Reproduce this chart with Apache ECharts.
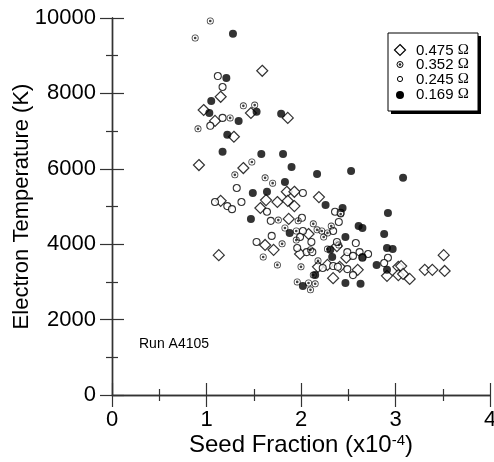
<!DOCTYPE html>
<html><head><meta charset="utf-8">
<script src="https://cdn.jsdelivr.net/npm/echarts@6/dist/echarts.min.js"></script>
<style>html,body{margin:0;padding:0;background:#fff}#c{width:494px;height:462px}</style>
</head><body><div id="c"></div>
<script>
// Series: 0.475 ohm (open diamonds)
const x475 = [0.92,0.97,1.09,1.15,1.59,1.29,1.47,1.86,1.39,1.15,1.13,1.63,1.75,1.85,1.93,1.86,1.93,1.57,2.19,1.87,1.62,1.71,1.99,2.08,2.38,2.48,2.28,2.41,2.60,2.34,2.91,3.03,3.03,3.06,3.08,3.15,3.31,3.39,3.52,3.51,2.18];
const y475 = [6100,7560,7270,7910,8600,6850,7480,7350,6020,5150,3710,5170,5120,5390,5390,5150,5010,4960,5250,4670,3980,3850,3740,4270,3950,3640,3450,3400,3320,3100,3160,3400,3180,3420,3210,3080,3320,3320,3290,3710,3400];
// Series: 0.352 ohm (dot in circle)
const x352 = [0.88,1.04,0.91,1.39,1.51,1.25,1.48,1.30,1.62,1.70,1.76,1.97,2.13,1.83,1.95,2.17,2.22,2.28,2.32,2.24,1.95,1.80,2.28,1.60,1.75,2.00,2.18,1.96,2.08,2.15,2.10,2.42,2.13,2.10,2.40];
const y352 = [9470,9920,7060,7670,7690,7350,6180,5840,5760,5620,4640,4620,4540,4430,4350,4380,4350,4300,4480,4190,4110,4010,3870,3660,3450,3400,3560,3000,2970,2950,2790,4800,3180,3850,3980];
// Series: 0.245 ohm (open circles)
const x245 = [1.12,1.17,1.04,1.17,1.09,1.22,1.27,1.37,1.32,2.02,1.64,2.36,1.68,2.01,2.40,1.69,1.53,1.96,2.02,1.99,2.11,2.34,2.38,2.58,2.06,2.12,2.49,2.55,2.62,2.71,2.65,2.92,2.88,2.23,2.34,2.49,2.55,2.42,2.39];
const y245 = [8460,8170,7140,7350,5120,5010,4930,5120,5490,5360,4860,4860,4620,4700,4590,4220,4060,3900,4350,4190,4060,4350,4060,4030,3790,3790,3790,3690,3790,3740,3640,3640,3500,3370,3420,3340,3180,4830,3400];
// Series: 0.169 ohm (filled circles)
const x169 = [1.28,1.21,1.05,1.03,1.53,1.79,1.34,1.22,1.17,1.58,1.81,1.90,2.17,1.83,1.64,1.49,2.26,1.47,1.88,2.53,3.08,2.44,2.92,2.61,2.65,2.47,2.88,2.91,2.97,2.31,2.33,2.65,2.80,2.91,2.15,2.02,2.47,2.63];
const y169 = [9580,8410,7800,7480,7510,7460,7270,6900,6450,6390,6390,6050,5860,5650,5390,5360,5040,4670,4300,5940,5760,4960,4830,4480,4430,4190,4270,3900,3870,3850,3660,3660,3450,3320,3180,2890,2970,2950];

const legendLabels = ['0.475', '0.352', '0.245', '0.169'];
const xTickLabels = ['0','1','2','3','4'];
const yTickLabels = ['0','2000','4000','6000','8000','10000'];

const pairs = (xs, ys) => xs.map((v, i) => [v, ys[i]]);
const dotCircle = 'path://M10,0 A10,10 0 1,1 -10,0 A10,10 0 1,1 10,0 Z M7.6,0 A7.6,7.6 0 1,0 -7.6,0 A7.6,7.6 0 1,0 7.6,0 Z M3.8,0 A3.8,3.8 0 1,1 -3.8,0 A3.8,3.8 0 1,1 3.8,0 Z';

const AX = '#333';
const FONT = "'Liberation Sans', Arial, sans-serif";
const baseAxis = {
  axisLine: { show: true, lineStyle: { color: AX, width: 1.4 } },
  axisTick: { show: true, inside: true, length: 12, lineStyle: { color: AX, width: 1.2 } },
  minorTick: { show: true, splitNumber: 2, length: 6, lineStyle: { color: AX, width: 1.2 } },
  splitLine: { show: false },
  minorSplitLine: { show: false }
};

const chart = echarts.init(document.getElementById('c'), null, { renderer: 'canvas' });
chart.setOption({
  animation: false,
  backgroundColor: '#fff',
  grid: { left: 112, right: 4, top: 18, bottom: 67, containLabel: false, outerBoundsMode: 'none' },
  xAxis: [
    Object.assign({}, baseAxis, {
      type: 'value', min: 0, max: 4, interval: 1, position: 'bottom',
      axisLabel: { fontSize: 22, color: '#000', fontFamily: FONT, margin: 14,
        formatter: v => xTickLabels[Math.round(v)] },
      name: '{a|Seed Fraction (x10}{s|-4}{a|)}',
      nameLocation: 'middle', nameGap: 38, nameMoveOverlap: false,
      nameTextStyle: { rich: {
        a: { fontSize: 24, color: '#000', fontFamily: FONT },
        s: { fontSize: 15, color: '#000', fontFamily: FONT, verticalAlign: 'top', padding: [0,0,10,0] }
      } }
    }),
    Object.assign({}, baseAxis, {
      type: 'value', min: 0, max: 4, interval: 1, position: 'top',
      axisLabel: { show: false }
    })
  ],
  yAxis: [
    Object.assign({}, baseAxis, {
      type: 'value', min: 0, max: 10000, interval: 2000, position: 'left',
      axisLabel: { fontSize: 22, color: '#000', fontFamily: FONT, margin: 16,
        formatter: v => yTickLabels[Math.round(v / 2000)] },
      name: 'Electron Temperature (K)', nameLocation: 'middle', nameGap: 79, nameMoveOverlap: false,
      nameTextStyle: { fontSize: 22, color: '#000', fontFamily: FONT }
    }),
    Object.assign({}, baseAxis, {
      type: 'value', min: 0, max: 10000, interval: 2000, position: 'right',
      axisLabel: { show: false }
    })
  ],
  series: [
    { name: legendLabels[0], type: 'scatter', data: pairs(x475, y475), symbol: 'diamond', symbolSize: 11,
      itemStyle: { color: '#fff', borderColor: '#000', borderWidth: 1.2 } },
    { name: legendLabels[2], type: 'scatter', data: pairs(x245, y245), symbol: 'circle', symbolSize: 7,
      itemStyle: { color: '#fff', borderColor: '#000', borderWidth: 1.1 } },
    { name: legendLabels[1], type: 'scatter', data: pairs(x352, y352), symbol: dotCircle, symbolSize: 7,
      itemStyle: { color: '#111' } },
    { name: legendLabels[3], type: 'scatter', data: pairs(x169, y169), symbol: 'circle', symbolSize: 8,
      itemStyle: { color: '#000' } }
  ],
  graphic: [
    { type: 'rect', shape: { x: 391, y: 36, width: 90, height: 78 }, style: { fill: '#000' }, z: 10 },
    { type: 'rect', shape: { x: 388, y: 33, width: 90, height: 78 }, style: { fill: '#fff', stroke: '#000', lineWidth: 1 }, z: 11 },
    { type: 'polygon', shape: { points: [[400,44.5],[405.5,50],[400,55.5],[394.5,50]] }, style: { fill: '#fff', stroke: '#000', lineWidth: 1.2 }, z: 12 },
    { type: 'circle', shape: { cx: 400, cy: 64.5, r: 3 }, style: { fill: '#fff', stroke: '#000', lineWidth: 1 }, z: 12 },
    { type: 'circle', shape: { cx: 400, cy: 64.5, r: 1.3 }, style: { fill: '#222' }, z: 12 },
    { type: 'circle', shape: { cx: 400, cy: 79, r: 2.6 }, style: { fill: '#fff', stroke: '#000', lineWidth: 1 }, z: 12 },
    { type: 'circle', shape: { cx: 400, cy: 95, r: 4 }, style: { fill: '#000' }, z: 12 },
    ...legendLabels.map((t, i) => ({
      type: 'text', left: 416, top: [43, 57, 72, 87][i], z: 12,
      style: { text: '{a|' + t + ' }{o|Ω}', rich: {
        a: { fontSize: 15, fontFamily: FONT, fill: '#000' },
        o: { fontSize: 15, fontFamily: "'Liberation Serif', 'Times New Roman', serif", fill: '#000' } } }
    })),
    { type: 'text', left: 139, top: 337, z: 12,
      style: { text: 'Run A4105', fontSize: 14, fontFamily: FONT, fill: '#000' } }
  ]
});
</script></body></html>
